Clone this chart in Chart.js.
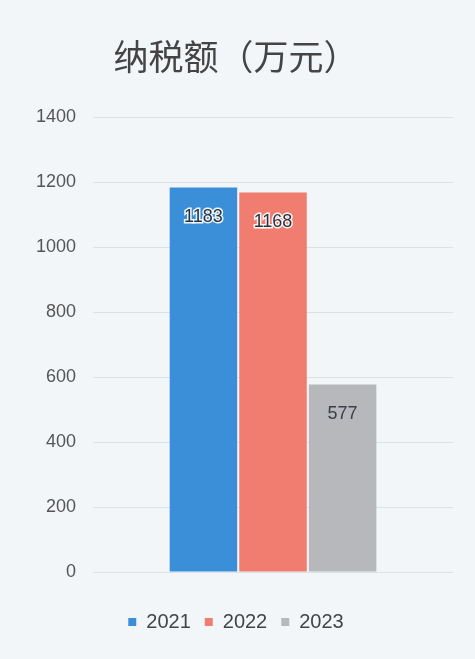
<!DOCTYPE html>
<html>
<head>
<meta charset="utf-8">
<script src="https://cdn.jsdelivr.net/npm/chart.js@4/dist/chart.umd.min.js"></script>
<style>
  html, body { margin: 0; padding: 0; background: #f3f6f9; }
  #wrap { width: 475px; height: 659px; }
</style>
</head>
<body>
<div id="wrap"><canvas id="c" width="475" height="659"></canvas></div>
<script>
const categories = ["纳税额"];
const seriesNames = ["2021", "2022", "2023"];
const values2021 = [1183];
const values2022 = [1168];
const values2023 = [577];
const yTicks = [0, 200, 400, 600, 800, 1000, 1200, 1400];
const titleText = "纳税额（万元）";

const colors = ["#3b8fd9", "#f07d70", "#b6b8bc"];

const labelPlugin = {
  id: "barLabels",
  afterDatasetsDraw(chart) {
    const ctx = chart.ctx;
    ctx.save();
    ctx.font = "18px 'Liberation Sans', Arial, sans-serif";
    ctx.textAlign = "center";
    ctx.textBaseline = "middle";
    chart.data.datasets.forEach((ds, i) => {
      const meta = chart.getDatasetMeta(i);
      meta.data.forEach((bar, j) => {
        const v = ds.data[j];
        const y = bar.y + 30;
        if (i < 2) {
          ctx.lineWidth = 3;
          ctx.strokeStyle = "rgba(255,255,255,0.9)";
          ctx.strokeText(String(v), bar.x, y);
        }
        ctx.fillStyle = i < 2 ? "#2a3440" : "#3a3f46";
        ctx.fillText(String(v), bar.x, y);
      });
    });
    ctx.restore();
  }
};

new Chart(document.getElementById("c"), {
  type: "bar",
  data: {
    labels: categories,
    datasets: [
      { label: seriesNames[0], data: values2021, backgroundColor: colors[0] },
      { label: seriesNames[1], data: values2022, backgroundColor: colors[1] },
      { label: seriesNames[2], data: values2023, backgroundColor: colors[2] }
    ]
  },
  options: {
    responsive: false,
    animation: false,
    devicePixelRatio: 1,
    layout: { padding: { left: 19, right: 22, top: 14, bottom: 17 } },
    datasets: { bar: { categoryPercentage: 0.58, barPercentage: 0.97 } },
    plugins: {
      title: {
        display: true,
        text: titleText,
        color: "#444",
        font: { family: "'Noto Sans CJK SC', sans-serif", size: 35, weight: "normal" },
        padding: { top: 22, bottom: 39 }
      },
      legend: {
        position: "bottom",
        labels: {
          boxWidth: 8, boxHeight: 8,
          color: "#444",
          font: { family: "'Liberation Sans', Arial, sans-serif", size: 20 },
          padding: 14
        }
      },
      tooltip: { enabled: false }
    },
    scales: {
      x: {
        ticks: { display: false },
        grid: { display: false },
        border: { display: false },
        title: { display: true, text: " ", color: "rgba(0,0,0,0)", font: { size: 14, lineHeight: 1 }, padding: { top: 2, bottom: 2 } }
      },
      y: {
        min: 0, max: 1400,
        afterBuildTicks(axis) { axis.ticks = yTicks.map(v => ({ value: v })); },
        ticks: {
          color: "#555",
          font: { family: "'Liberation Sans', Arial, sans-serif", size: 18 },
          padding: 17,
          callback: (v) => String(v)
        },
        grid: { color: "#dde2e7", drawTicks: false },
        border: { display: false }
      }
    }
  },
  plugins: [labelPlugin]
});
</script>
</body>
</html>
